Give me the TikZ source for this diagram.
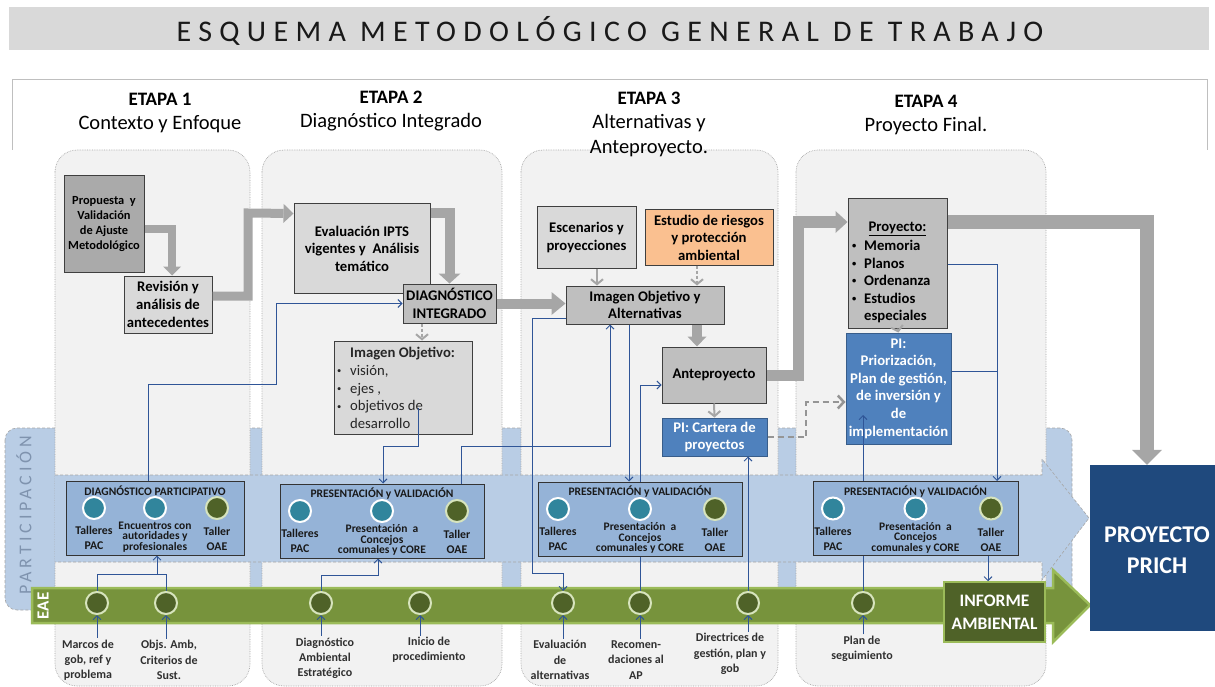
\documentclass[tikz,border=0pt]{standalone}
\usepackage{fontspec}
\setmainfont{Carlito}
\newfontfamily\titlefont[LetterSpace=24.5]{Carlito}
\newfontfamily\partfont[LetterSpace=22]{Carlito}
\usetikzlibrary{arrows.meta,calc}
\pgfdeclarelayer{lines}
\pgfdeclarelayer{front}
\pgfsetlayers{main,lines,front}
\definecolor{banner}{HTML}{D9D9D9}
\definecolor{colbg}{HTML}{F2F2F2}
\definecolor{colln}{HTML}{A6A6A6}
\definecolor{bandblue}{HTML}{B9CDE5}
\definecolor{pblue}{HTML}{95B3D7}
\definecolor{piblue}{HTML}{4F81BD}
\definecolor{pibord}{HTML}{385D8A}
\definecolor{navy}{HTML}{1F497D}
\definecolor{teal1}{HTML}{31859C}
\definecolor{dgreen}{HTML}{4F6228}
\definecolor{lgreen}{HTML}{D7E4BD}
\definecolor{bandgreen}{HTML}{77933C}
\definecolor{bandgreenln}{HTML}{9BBB59}
\definecolor{garr}{HTML}{A6A6A6}
\definecolor{gdash}{HTML}{959595}
\definecolor{g1}{HTML}{D9D9D9}
\definecolor{g2}{HTML}{BFBFBF}
\definecolor{g3}{HTML}{AAAAAA}
\definecolor{orng}{HTML}{FAC090}
\definecolor{cblue}{HTML}{2F5597}
\definecolor{txtgray}{HTML}{303030}
\definecolor{partgray}{HTML}{7F93AE}
\definecolor{boxln}{HTML}{3F3F3F}
\newcommand\fsz[2]{\fontsize{#1pt}{#2pt}\selectfont}
\newcommand\bul[1][12pt]{\makebox[#1][l]{\raisebox{1.6pt}{\fontsize{8.5pt}{8.5pt}\selectfont\textbullet}}}
\newcommand\ppbox[8]{%
  \node[pbx, minimum width=#4pt] (#1) at (#2,#3) {};
  \node[ptitle] (#1h) at ({#2},{#3-27}) {#7};
  \node[tc] (#1a) at ({#2+(#5)},{#3-10}) {};
  \node[tc] (#1b) at ({#2},{#3-10}) {};
  \node[gc] (#1c) at ({#2+(#6)},{#3-10}) {};
  \node[plab] (#1al) at ({#2+(#5)},{#3+20}) {Talleres\\PAC};
  \node[pmid] (#1bl) at ({#2},{#3+19}) {#8};
  \node[plab] (#1cl) at ({#2+(#6)},{#3+21}) {Taller\\OAE};
}
\begin{document}
\begin{tikzpicture}[x=1pt,y=-1pt,
  col/.style={fill=colbg, draw=colln, densely dotted, line width=0.7pt, rounded corners=22pt},
  box/.style={draw=boxln, line width=1pt, align=center, font=\bfseries\fsz{14.7}{17.6}, inner sep=1pt, text=black},
  pibx/.style={box, fill=piblue, draw=pibord, text=white},
  hdr/.style={font=\bfseries\fsz{19}{22}, inner sep=0pt},
  sub/.style={font=\fsz{20.5}{24}, inner sep=0pt},
  pbx/.style={draw=black!80, fill=pblue, line width=1pt, minimum height=74pt},
  ptitle/.style={font=\bfseries\fsz{11.5}{12}, text=black!90, inner sep=0pt},
  plab/.style={font=\bfseries\fsz{11.8}{15}, align=center, text=black!90, inner sep=0pt},
  pmid/.style={font=\bfseries\fsz{11.5}{10.5}, align=center, text=black!90, inner sep=0pt},
  tc/.style={circle, fill=teal1, draw=white, line width=2pt, minimum size=22pt, inner sep=0pt},
  gc/.style={circle, fill=dgreen, draw=lgreen, line width=2pt, minimum size=22pt, inner sep=0pt},
  elab/.style={font=\bfseries\fsz{12}{15.2}, align=center, text=txtgray, inner sep=1.5pt},
  cl/.style={draw=cblue, line width=0.9pt},
  cla/.style={cl, -{Straight Barb[length=4pt,width=8pt]}},
  bigarr/.style n args={3}{draw=garr, line width=#1, line join=miter, -{Triangle[length=#2,width=#3,line width=0pt]}},
  smallarr/.style={draw=garr, line width=2pt, -{Straight Barb[length=5pt,width=12pt]}},
  dasharr/.style={draw=gdash, line width=2.5pt, dash pattern=on 6pt off 4pt, -{Straight Barb[length=6pt,width=13pt]}}
]
\useasboundingbox (0,0) rectangle (1215,687);
% banner
\fill[banner] (9,7) rectangle (1209,50);
\node[font=\titlefont\fsz{30}{32}, text=black!90] (title) at (610,31) {ESQUEMA METODOLÓGICO GENERAL DE TRABAJO};
% frame
\draw[g2, line width=0.8pt] (12,150) -- (12,79) -- (1207,79) -- (1207,150);
% participation band
\draw[fill=bandblue, draw=colln, densely dashed, line width=0.6pt, rounded corners=12pt] (5,428) rectangle (1072,610);
% columns
\draw[col] (55,150) rectangle (250,686);
\draw[col] (262,150) rectangle (502,686);
\draw[col] (521,150) rectangle (778,686);
\draw[col] (796,150) rectangle (1046,686);
% arrow band
\fill[bandblue] (55,475) -- (1042,475) -- (1042,459) -- (1089,518) -- (1042,580) -- (1042,562) -- (55,562) -- cycle;
\draw[colln, densely dashed, line width=0.6pt] (55,475) -- (1042,475) -- (1042,459) -- (1089,518) -- (1042,580) -- (1042,562) -- (55,562);
\node[rotate=90, font=\partfont\fsz{18}{18}, text=partgray] (part) at (24,515) {PARTICIPACIÓN};
% green band
\draw[fill=bandgreen, draw=bandgreenln, line width=2.5pt, line join=miter] (32,588) -- (1053,588) -- (1053,570) -- (1090,605) -- (1053,642) -- (1053,623) -- (32,623) -- cycle;
\node[rotate=90, font=\bfseries\fsz{17}{17}, text=white] (eae) at (43,606) {EAE};
% headers
\node[hdr] (et1) at (160,99) {ETAPA 1};
\node[sub] (st1) at (160,124) {Contexto y Enfoque};
\node[hdr] (et2) at (391,97) {ETAPA 2};
\node[sub] (st2) at (391,122) {Diagnóstico Integrado};
\node[hdr] (et3) at (649,98) {ETAPA 3};
\node[sub] (st3) at (649,123) {Alternativas y};
\node[sub] (st3b) at (649,149) {Anteproyecto.};
\node[hdr] (et4) at (926,101) {ETAPA 4};
\node[sub] (st4) at (926,126) {Proyecto Final.};
% upper boxes
\node[box, fill=g3, minimum width=80pt, minimum height=96pt, font=\bfseries\fsz{12.4}{15}] (prop) at (104,224) {Propuesta\ \ y\\Validación\\de Ajuste\\Metodológico};
\node[box, fill=g1, minimum width=88pt, minimum height=57pt, font=\bfseries\fsz{14.7}{18}] (rev) at (168,304.5) {Revisión y\\análisis de\\antecedentes};
\node[box, fill=g1, minimum width=136pt, minimum height=89pt] (eval) at (362,248.5) {Evaluación IPTS\\vigentes y\ \ Análisis\\temático};
\node[box, fill=g2, minimum width=93pt, minimum height=39pt] (diag) at (449.5,303.5) {DIAGNÓSTICO\\INTEGRADO};
\node[box, fill=g1, minimum width=138pt, minimum height=93pt] (imgobj) at (403,387.5) {};
\node[anchor=west, align=left, font=\fsz{14.7}{17.8}, inner sep=0pt, text=black!85] (imgobjt) at (337,388) {\hspace*{13pt}\textbf{Imagen Objetivo:}\\ \bul[13pt]visión,\\ \bul[13pt]ejes ,\\ \bul[13pt]objetivos de\\ \hspace*{13pt}desarrollo};
\node[box, fill=g1, minimum width=99pt, minimum height=61pt] (escen) at (586.5,237.5) {Escenarios y\\proyecciones};
\node[box, fill=orng, minimum width=128pt, minimum height=55pt] (estud) at (709,237.5) {Estudio de riesgos\\y protección\\ambiental};
\node[box, fill=g2, minimum width=158pt, minimum height=38pt] (imgalt) at (645,305) {Imagen Objetivo y\\Alternativas};
\node[box, fill=g2, minimum width=104pt, minimum height=56pt] (ante) at (714,375) {Anteproyecto};
\node[pibx, minimum width=105pt, minimum height=38pt] (picart) at (714.5,437) {PI: Cartera de\\proyectos};
\node[box, fill=g2, minimum width=99pt, minimum height=129pt] (proy) at (897.5,263.5) {};
\node[font=\bfseries\fsz{14.7}{17.6}, inner sep=0pt] (proyt) at (897.5,229) {\underline{Proyecto:}};
\node[anchor=west, align=left, font=\bfseries\fsz{14.7}{17.5}, inner sep=0pt] (proyl) at (852,281.5) {\bul Memoria\\ \bul Planos\\ \bul Ordenanza\\ \bul Estudios\\ \hspace*{12pt}especiales};
\node[pibx, minimum width=105pt, minimum height=111pt] (pibox) at (898.5,388.5) {PI:\\Priorización,\\Plan de gestión,\\de inversión y\\de\\implementación};
% thick arrows
\coordinate (wb) at (248,213);
\coordinate (wf) at (798,222);
\coordinate (wg) at (1147,222);
\draw[bigarr={8pt}{9pt}{18pt}] ([yshift=-5pt]prop.east) -| ([xshift=4pt]rev.north);
\draw[bigarr={9pt}{10pt}{19pt}] ([yshift=8.5pt]rev.east) -| (wb) -- ([yshift=35pt]eval.west);
\draw[bigarr={10pt}{10pt}{22pt}] ([yshift=35pt]eval.east) -| (diag.north);
\draw[bigarr={10pt}{14pt}{23pt}] (diag.east) -- (diag.east -| imgalt.west);
\coordinate (we) at ([xshift=52pt]imgalt.south);
\draw[bigarr={10pt}{10pt}{19pt}] (we) -- (we |- ante.north);
\draw[bigarr={11pt}{12pt}{22pt}] (ante.east) -| (wf) -- ([yshift=41.5pt]proy.west);
% small arrows
\draw[smallarr, dash pattern=on 3pt off 2pt] ([xshift=-27.5pt]diag.south) -- ([xshift=19pt]imgobj.north);
\draw[smallarr] ([xshift=10.5pt]escen.south) -- ([xshift=-48pt]imgalt.north);
\draw[smallarr, dash pattern=on 3pt off 2pt] ([xshift=-12pt]estud.south) -- ([xshift=52pt]imgalt.north);
\draw[smallarr] (ante.south) -- (picart.north);
\draw[smallarr] (proy.south) -- (pibox.north);
\coordinate (wd) at (806,402);
\draw[dasharr] (picart.east) -| (wd) -- ([yshift=-13.5pt]pibox.west);
% front: participation boxes, EAE circles, final boxes
\begin{pgfonlayer}{front}
\ppbox{p1}{155}{518}{178}{-61}{62}{DIAGNÓSTICO PARTICIPATIVO}{Encuentros con\\autoridades y\\profesionales}
\ppbox{p2}{382}{521}{204}{-82}{75}{PRESENTACIÓN y VALIDACIÓN}{Presentación\ \ a\\Concejos\\comunales y CORE}
\ppbox{p3}{640}{519}{204}{-82}{75}{PRESENTACIÓN y VALIDACIÓN}{Presentación\ \ a\\Concejos\\comunales y CORE}
\ppbox{p4}{915.5}{518.5}{205}{-82.5}{75.5}{PRESENTACIÓN y VALIDACIÓN}{Presentación\ \ a\\Concejos\\comunales y CORE}
\node[gc] (e1) at (97,603) {};
\node[gc] (e2) at (166,603) {};
\node[gc] (e3) at (321,603) {};
\node[gc] (e4) at (420,603) {};
\node[gc] (e5) at (563,603) {};
\node[gc] (e6) at (640,603) {};
\node[gc] (e7) at (748,603) {};
\node[gc] (e8) at (863,603) {};
\node[elab] (l1) at (88,660) {Marcos de\\gob, ref y\\problema};
\node[elab] (l2) at (169,660) {Objs. Amb,\\Criterios de\\Sust.};
\node[elab] (l3) at (325,658) {Diagnóstico\\Ambiental\\Estratégico};
\node[elab] (l4) at (429,650) {Inicio de\\procedimiento};
\node[elab] (l5) at (560,660) {Evaluación\\de\\alternativas};
\node[elab] (l6) at (636,660) {Recomen-\\daciones al\\AP};
\node[elab] (l7) at (730,654) {Directrices de\\gestión, plan y\\gob};
\node[elab] (l8) at (862,649) {Plan de\\seguimiento};
\node[fill=dgreen, draw=bandgreenln, line width=1.5pt, minimum width=101pt, minimum height=60pt, text=white, font=\bfseries\fsz{17.5}{23}, align=center, inner sep=0pt] (inf) at (994.5,612) {INFORME\\AMBIENTAL};
\node[fill=navy, minimum width=135pt, minimum height=166pt, inner sep=0pt] (prich) at (1157.5,548) {};
\node[text=white, font=\bfseries\fsz{24}{31}, align=center, inner sep=0pt] (prichT) at (1157,550) {PROYECTO\\PRICH};
\draw[bigarr={14pt}{15pt}{30pt}] ([yshift=41.5pt]proy.east) -- (wg) -- (wg |- prich.north);
\end{pgfonlayer}
% thin connectors
\begin{pgfonlayer}{lines}
\coordinate (j1) at (157,574);
\draw[cl] (e1.north) |- (j1);
\draw[cl] (e2.north) |- (j1);
\draw[cla] (j1) -- (j1 |- p1.south);
\coordinate (w2) at (276,384);
\draw[cla] ([xshift=-7pt]p1.north) |- (w2) |- (diag.west);
\coordinate (w3) at (383,446);
\draw[cla] ($(imgobj.center)+(15,20.5)$) |- (w3) -- (w3 |- p2.north);
\coordinate (w4) at (610,446);
\draw[cla] ([xshift=79pt]p2.north) |- (w4) -- (w4 |- imgalt.south);
\coordinate (w5) at (378,575);
\draw[cla] (e3.north) |- (w5) -- (w5 |- p2.south);
\coordinate (w6) at (532,573);
\draw[cla] ([yshift=-13pt]imgalt.west) -| (w6) -| (e5.north);
\coordinate (w7) at ([xshift=-16pt]imgalt.south);
\draw[cla] (w7) -- (w7 |- p3.north);
\draw[cla] (e6.north) |- ([yshift=-10pt]ante.west);
\draw[cla] (e7.north) -- (e7.north |- picart.south);
\coordinate (w10) at (863,415);
\draw[cla] (e8.north) -- (w10);
\coordinate (w11) at (988,560);
\draw[cla] (p4.south -| w11) -- (inf.north -| w11);
\coordinate (w12) at (997,264);
\coordinate (w12b) at (997,371);
\draw[cla] (proy.east |- w12) -- (w12) -- (w12 |- p4.north);
\draw[cl] (pibox.east |- w12b) -- (w12b);
\draw[cla] (e1 |- l1.north) -- (e1.south);
\draw[cla] (e2 |- l2.north) -- (e2.south);
\draw[cla] (e3 |- l3.north) -- (e3.south);
\draw[cla] (e4 |- l4.north) -- (e4.south);
\draw[cla] (e5 |- l5.north) -- (e5.south);
\draw[cla] (e6 |- l6.north) -- (e6.south);
\draw[cla] (e7 |- l7.north) -- (e7.south);
\draw[cla] (e8 |- l8.north) -- (e8.south);
\end{pgfonlayer}
\end{tikzpicture}
\end{document}
